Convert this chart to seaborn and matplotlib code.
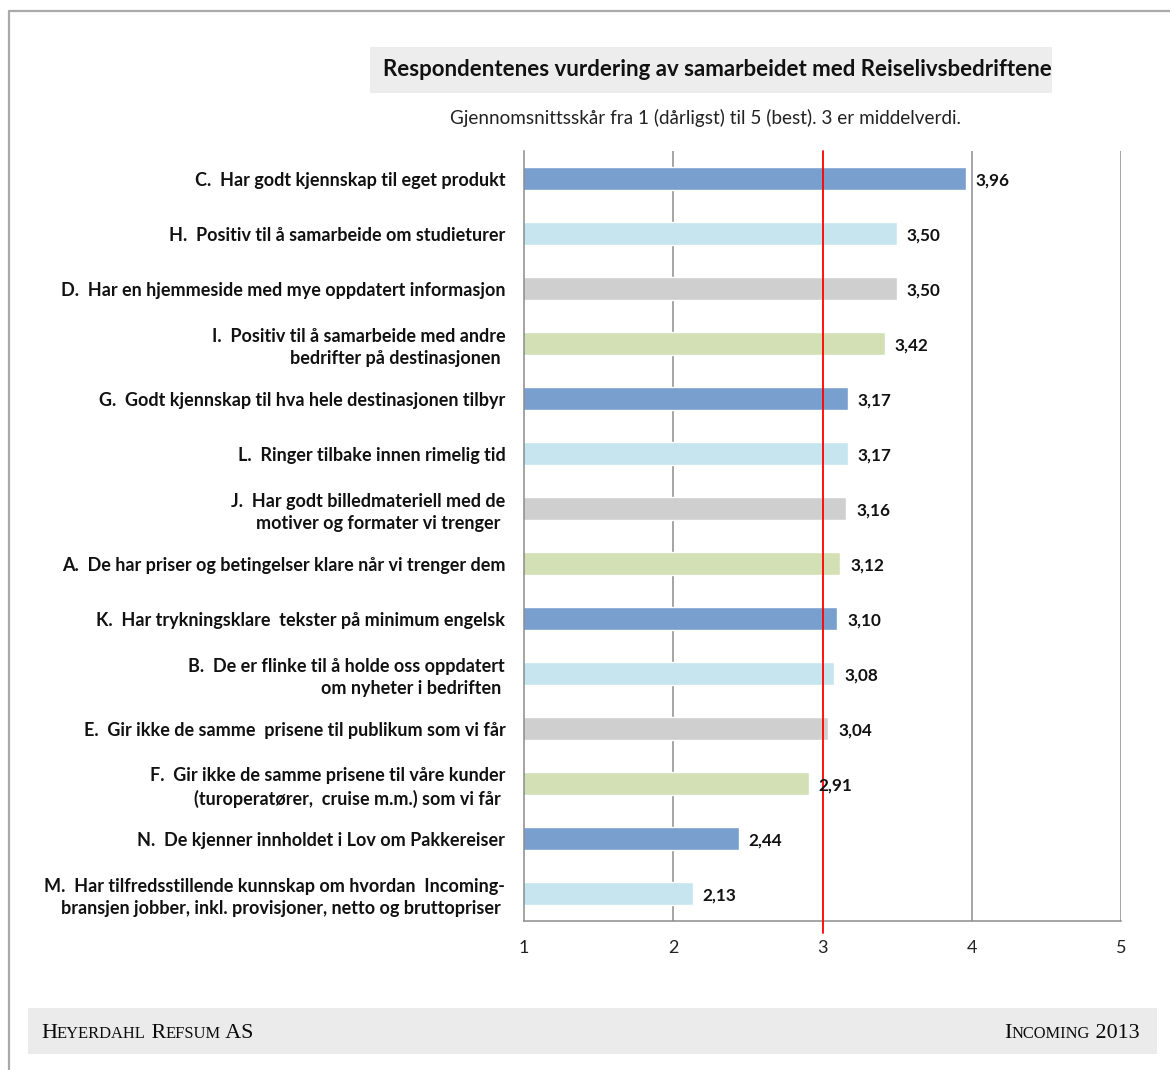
import matplotlib
matplotlib.use("Agg")
import matplotlib.pyplot as plt
import seaborn as sns
import pandas as pd
from matplotlib.patches import Rectangle
from matplotlib.lines import Line2D

# Statements rated by respondents, top to bottom
categories = [
    "C.  Har godt kjennskap til eget produkt",
    "H.  Positiv til å samarbeide om studieturer",
    "D.  Har en hjemmeside med mye oppdatert informasjon",
    "I.  Positiv til å samarbeide med andre\nbedrifter på destinasjonen ",
    "G.  Godt kjennskap til hva hele destinasjonen tilbyr",
    "L.  Ringer tilbake innen rimelig tid",
    "J.  Har godt billedmateriell med de\nmotiver og formater vi trenger ",
    "A.  De har priser og betingelser klare når vi trenger dem",
    "K.  Har trykningsklare  tekster på minimum engelsk",
    "B.  De er flinke til å holde oss oppdatert\nom nyheter i bedriften ",
    "E.  Gir ikke de samme  prisene til publikum som vi får",
    "F.  Gir ikke de samme prisene til våre kunder\n(turoperatører,  cruise m.m.) som vi får ",
    "N.  De kjenner innholdet i Lov om Pakkereiser",
    "M.  Har tilfredsstillende kunnskap om hvordan  Incoming-\nbransjen jobber, inkl. provisjoner, netto og bruttopriser ",
]
scores = [3.96, 3.50, 3.50, 3.42, 3.17, 3.17, 3.16, 3.12, 3.10, 3.08, 3.04, 2.91, 2.44, 2.13]
bar_colors = ["#789FCE", "#C6E5EE", "#CFCFCF", "#D3E0B5"] * 4
bar_colors = bar_colors[:len(categories)]
x_ticks = [1, 2, 3, 4, 5]
midpoint = 3

title = "Respondentenes vurdering av samarbeidet med Reiselivsbedriftene"
subtitle = "Gjennomsnittsskår fra 1 (dårligst) til 5 (best). 3 er middelverdi."
footer_left = [("H", 15.8), ("EYERDAHL", 11.9), (" R", 15.8), ("EFSUM", 11.9), (" AS", 15.8)]
footer_right = [("I", 15.8), ("NCOMING", 11.9), (" 2013", 15.8)]

df = pd.DataFrame({"label": categories, "score": scores})

sns.set_style("white")
plt.rcParams["font.family"] = ["Lato", "DejaVu Sans"]

fig = plt.figure(figsize=(11.7, 10.7), dpi=100)
W, H = 1170, 1070

def fx(px):
    return px / W

def fy(py):
    return 1 - py / H

# page frame
fig.add_artist(Line2D([fx(9), fx(9)], [fy(11), 0], color="#A9A9A9", lw=1.6))
fig.add_artist(Line2D([fx(9), 1], [fy(11), fy(11)], color="#A9A9A9", lw=1.6))

# title box
fig.add_artist(Rectangle((fx(370), fy(93)), fx(1052) - fx(370), fy(47) - fy(93),
                         facecolor="#EDEDED", edgecolor="none"))
fig.text(fx(383), fy(69), title, ha="left", va="center", fontsize=16,
         fontweight="bold", color="#111111")
fig.text(fx(705), fy(118), subtitle, ha="center", va="center", fontsize=13.6,
         color="#222222")

ax = fig.add_axes([fx(524), fy(921), fx(1121) - fx(524), fy(151) - fy(921)])

sns.barplot(data=df, x="score", y="label", hue="label", palette=bar_colors,
            legend=False, width=0.42, ax=ax, orient="h", saturation=1)

ax.set_xlim(1, 5)
ax.set_ylim(len(categories) - 0.5, -0.5)
ax.set_xlabel("")
ax.set_ylabel("")

# vertical gridlines and the midpoint marker
for v in x_ticks[1:]:
    if v != midpoint:
        ax.axvline(v, color="#8C8C8C", lw=1.1, zorder=0.5)
ax.axvline(midpoint, ymin=-0.015, ymax=1, color="#FF0000", lw=1.3, zorder=3,
           clip_on=False)

for s in ["top", "right"]:
    ax.spines[s].set_visible(False)
for s in ["left", "bottom"]:
    ax.spines[s].set_color("#8C8C8C")
    ax.spines[s].set_linewidth(1.1)

ax.set_xticks(x_ticks)
ax.set_xticklabels([str(t) for t in x_ticks], fontsize=13, color="#222222")
ax.tick_params(axis="x", direction="out", length=6, color="#8C8C8C", width=1.1, pad=8)

ax.set_yticks(range(len(categories)))
ax.set_yticklabels(categories, fontsize=13, fontweight="bold", color="#111111",
                   multialignment="right", linespacing=1.35)
ax.tick_params(axis="y", which="major", length=0, pad=13.5)
ax.set_yticks([i - 0.5 for i in range(len(categories) + 1)], minor=True)
ax.tick_params(axis="y", which="minor", direction="out", length=6,
               color="#8C8C8C", width=1.1)

# value labels at the end of each bar
for i, v in enumerate(scores):
    ax.annotate(f"{v:.2f}".replace(".", ","), xy=(v, i), xytext=(7, -1.5),
                textcoords="offset points", ha="left", va="center",
                fontsize=12.3, fontweight="bold", color="#111111")

# footer band
fig.add_artist(Rectangle((fx(28), fy(1054)), fx(1157) - fx(28), fy(1008) - fy(1054),
                         facecolor="#EBEBEB", edgecolor="none"))

serif = ["Liberation Serif", "DejaVu Serif"]
renderer = fig.canvas.get_renderer()

def small_caps(x_px, y_px, parts, align="left"):
    """Draw runs of text of mixed size one after another on a shared baseline."""
    texts = []
    widths = []
    for txt, size in parts:
        t = fig.text(0, fy(y_px), txt, fontsize=size, family=serif,
                     ha="left", va="baseline", color="#0A0A0A")
        texts.append(t)
        widths.append(t.get_window_extent(renderer=renderer).width)
    x = x_px if align == "left" else x_px - sum(widths)
    for t, w in zip(texts, widths):
        t.set_x(fx(x))
        x += w

small_caps(41, 1038, footer_left)
small_caps(1140, 1038, footer_right, align="right")

fig.savefig("out.png", dpi=100, facecolor="white")
